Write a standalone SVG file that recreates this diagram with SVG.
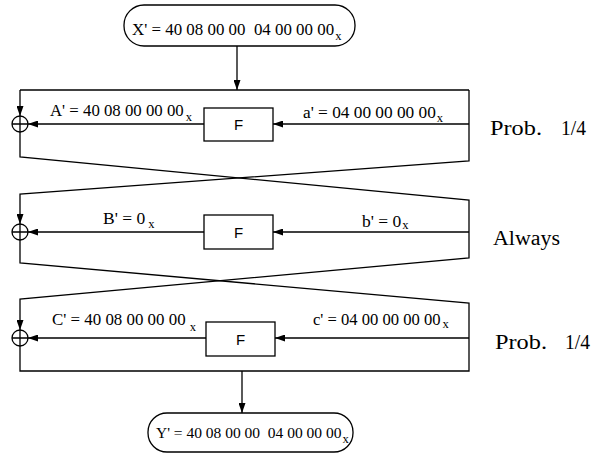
<svg xmlns="http://www.w3.org/2000/svg" width="605" height="460" viewBox="0 0 605 460">
<style>
.ln{fill:none;stroke:#000;stroke-width:1.3}
.bx{fill:#fff;stroke:#000;stroke-width:1.3}
.t{font-family:"Liberation Serif","Times New Roman",serif;font-size:16.8px;fill:#000;white-space:pre}
.s{font-size:12.5px}
.f{font-family:"Liberation Sans",Arial,sans-serif;font-size:15px;fill:#000;text-anchor:middle}
.p{font-family:"Liberation Serif","Times New Roman",serif;font-size:20px;fill:#000;white-space:pre}
</style>
<defs>
<marker id="ah" viewBox="0 0 10 7" refX="10" refY="3.5" markerWidth="10" markerHeight="7" markerUnits="userSpaceOnUse" orient="auto">
<path d="M0,0 L10,3.5 L0,7 z" fill="#000"/>
</marker>
</defs>
<rect width="605" height="460" fill="#fff"/>
<g id="connectors">
<path class="ln" d="M237,46 L237,90" marker-end="url(#ah)"/>
<path class="ln" d="M20,90 L469,90"/>
<path class="ln" d="M20,90 L20,116" marker-end="url(#ah)"/>
<path class="ln" d="M469,90 L469,161 L20,194 L20,224" marker-end="url(#ah)"/>
<path class="ln" d="M20,132 L20,157 L469,200 L469,258 L20,299 L20,330" marker-end="url(#ah)"/>
<path class="ln" d="M20,240 L20,263 L469,303 L469,371 L20,371 L20,346"/>
<path class="ln" d="M469,124 L273,124" marker-end="url(#ah)"/>
<path class="ln" d="M204,124 L28,124" marker-end="url(#ah)"/>
<path class="ln" d="M469,232 L273,232" marker-end="url(#ah)"/>
<path class="ln" d="M204,232 L28,232" marker-end="url(#ah)"/>
<path class="ln" d="M469,338 L275,338" marker-end="url(#ah)"/>
<path class="ln" d="M206,338 L28,338" marker-end="url(#ah)"/>
<path class="ln" d="M242,371 L242,413" marker-end="url(#ah)"/>
</g>
<g id="input">
<rect class="bx" x="124" y="5" width="231" height="41" rx="20" ry="20"/>
<text class="t" x="132" y="35" style="font-size:16.9px">X' = 40 08 00 00  04 00 00 00<tspan class="s" dx="1" dy="5">x</tspan></text>
</g>
<g id="xor1">
<circle class="bx" cx="20" cy="124" r="8"/>
<path class="ln" d="M12,124 L28,124 M20,116 L20,132"/>
</g>
<g id="f1">
<rect class="bx" x="204" y="108" width="69" height="33"/>
<text class="f" x="238.5" y="130">F</text>
</g>
<g id="label-A">
<text class="t" x="50" y="116">A' = 40 08 00 00 00<tspan class="s" dx="2" dy="5">x</tspan></text>
</g>
<g id="label-a">
<text class="t" x="303" y="118" style="font-size:17.3px">a' = 04 00 00 00 00<tspan class="s" dx="1" dy="4">x</tspan></text>
</g>
<g id="xor2">
<circle class="bx" cx="20" cy="232" r="8"/>
<path class="ln" d="M12,232 L28,232 M20,224 L20,240"/>
</g>
<g id="f2">
<rect class="bx" x="204" y="215" width="69" height="34"/>
<text class="f" x="238.5" y="238">F</text>
</g>
<g id="label-B">
<text class="t" x="103" y="224" style="font-size:17.5px">B' = 0<tspan class="s" dx="3" dy="4">x</tspan></text>
</g>
<g id="label-b">
<text class="t" x="362" y="227" style="font-size:17.5px">b' = 0<tspan class="s" dx="1" dy="2">x</tspan></text>
</g>
<g id="xor3">
<circle class="bx" cx="20" cy="338" r="8"/>
<path class="ln" d="M12,338 L28,338 M20,330 L20,346"/>
</g>
<g id="f3">
<rect class="bx" x="206" y="322" width="69" height="34"/>
<text class="f" x="240.5" y="345">F</text>
</g>
<g id="label-C">
<text class="t" x="52" y="325" style="font-size:16.9px">C' = 40 08 00 00 00<tspan class="s" dx="4" dy="6">x</tspan></text>
</g>
<g id="label-c">
<text class="t" x="313" y="325" style="font-size:16.6px">c' = 04 00 00 00 00<tspan class="s" dx="2" dy="3">x</tspan></text>
</g>
<g id="output">
<rect class="bx" x="148" y="413" width="205" height="39" rx="19" ry="19"/>
<text class="t" x="156" y="438" style="font-size:15.5px">Y' = 40 08 00 00  04 00 00 00<tspan class="s" dx="1" dy="5">x</tspan></text>
</g>
<g id="probs">
<text class="p" x="490" y="135"><tspan textLength="52" lengthAdjust="spacingAndGlyphs">Prob.</tspan><tspan x="561" textLength="25" lengthAdjust="spacingAndGlyphs">1/4</tspan></text>
<text class="p" x="493" y="245" textLength="67" lengthAdjust="spacingAndGlyphs">Always</text>
<text class="p" x="495" y="349"><tspan textLength="52" lengthAdjust="spacingAndGlyphs">Prob.</tspan><tspan x="565" textLength="25" lengthAdjust="spacingAndGlyphs">1/4</tspan></text>
</g>
</svg>
